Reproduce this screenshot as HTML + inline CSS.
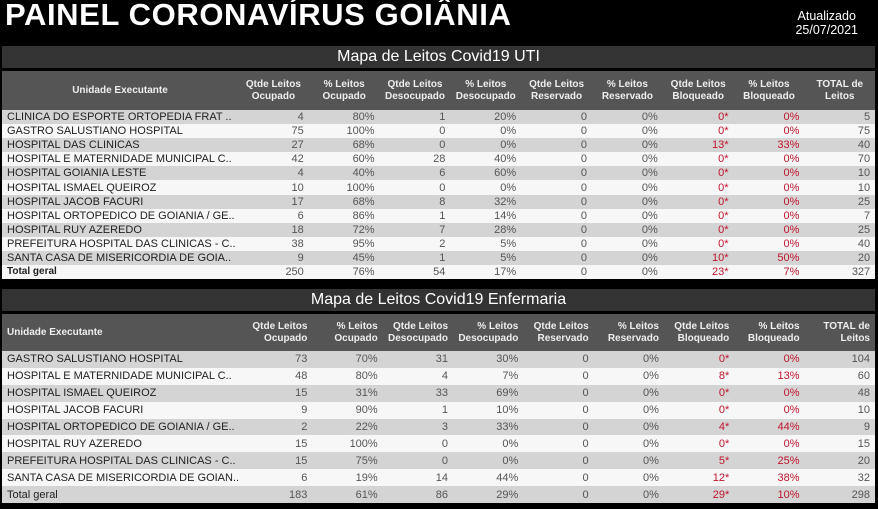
<!DOCTYPE html><html><head><meta charset="utf-8"><style>
body{margin:0;width:878px;height:509px;background:#000;overflow:hidden;font-family:"Liberation Sans",Arial,sans-serif;position:relative}
.t{position:absolute;left:5px;top:-3px;color:#fff;font-weight:bold;font-size:31px;letter-spacing:0.6px}
.up{position:absolute;right:20px;top:9px;color:#fff;font-size:12.5px;text-align:center;line-height:14px}
.bar{position:absolute;left:2px;width:873px;height:22px;background:#333;color:#fff;font-size:16px;text-align:center;line-height:22px}
table{position:absolute;left:2px;width:873px;border-collapse:collapse;table-layout:fixed}
td,th{padding:0 5px;white-space:nowrap;overflow:hidden}
th{background:#555;color:#eee;font-size:10px;font-weight:bold;line-height:12px}
td{font-size:11px;color:#555;text-align:right}
td:first-child{text-align:left;color:#222}
tr:nth-child(odd) td{background:#d4d4d4}
tr:nth-child(even) td{background:#f7f7f7}
.r{color:#c0142c}
#u th{text-align:center;height:39px}
#u td{height:14.1px;line-height:14px}
#e th{text-align:right;height:37px}
#e th:first-child{text-align:left}
#e td{height:16.9px;line-height:16px}
</style></head><body>
<div class="t">PAINEL CORONAVÍRUS GOIÂNIA</div>
<div class="up">Atualizado<br>25/07/2021</div>
<div class="bar" style="top:46px">Mapa de Leitos Covid19 UTI</div>
<table id="u" style="top:71px"><colgroup><col style="width:236px"><col span="9" style="width:70.8px"></colgroup>
<thead><tr><th>Unidade Executante</th><th>Qtde Leitos<br>Ocupado</th><th>% Leitos<br>Ocupado</th><th>Qtde Leitos<br>Desocupado</th><th>% Leitos<br>Desocupado</th><th>Qtde Leitos<br>Reservado</th><th>% Leitos<br>Reservado</th><th>Qtde Leitos<br>Bloqueado</th><th>% Leitos<br>Bloqueado</th><th>TOTAL de<br>Leitos</th></tr></thead>
<tbody>
<tr><td>CLINICA DO ESPORTE ORTOPEDIA FRAT ..</td><td>4</td><td>80%</td><td>1</td><td>20%</td><td>0</td><td>0%</td><td class="r">0*</td><td class="r">0%</td><td>5</td></tr>
<tr><td>GASTRO SALUSTIANO HOSPITAL</td><td>75</td><td>100%</td><td>0</td><td>0%</td><td>0</td><td>0%</td><td class="r">0*</td><td class="r">0%</td><td>75</td></tr>
<tr><td>HOSPITAL DAS CLINICAS</td><td>27</td><td>68%</td><td>0</td><td>0%</td><td>0</td><td>0%</td><td class="r">13*</td><td class="r">33%</td><td>40</td></tr>
<tr><td>HOSPITAL E MATERNIDADE MUNICIPAL C..</td><td>42</td><td>60%</td><td>28</td><td>40%</td><td>0</td><td>0%</td><td class="r">0*</td><td class="r">0%</td><td>70</td></tr>
<tr><td>HOSPITAL GOIANIA LESTE</td><td>4</td><td>40%</td><td>6</td><td>60%</td><td>0</td><td>0%</td><td class="r">0*</td><td class="r">0%</td><td>10</td></tr>
<tr><td>HOSPITAL ISMAEL QUEIROZ</td><td>10</td><td>100%</td><td>0</td><td>0%</td><td>0</td><td>0%</td><td class="r">0*</td><td class="r">0%</td><td>10</td></tr>
<tr><td>HOSPITAL JACOB FACURI</td><td>17</td><td>68%</td><td>8</td><td>32%</td><td>0</td><td>0%</td><td class="r">0*</td><td class="r">0%</td><td>25</td></tr>
<tr><td>HOSPITAL ORTOPEDICO DE GOIANIA / GE..</td><td>6</td><td>86%</td><td>1</td><td>14%</td><td>0</td><td>0%</td><td class="r">0*</td><td class="r">0%</td><td>7</td></tr>
<tr><td>HOSPITAL RUY AZEREDO</td><td>18</td><td>72%</td><td>7</td><td>28%</td><td>0</td><td>0%</td><td class="r">0*</td><td class="r">0%</td><td>25</td></tr>
<tr><td>PREFEITURA HOSPITAL DAS CLINICAS - C..</td><td>38</td><td>95%</td><td>2</td><td>5%</td><td>0</td><td>0%</td><td class="r">0*</td><td class="r">0%</td><td>40</td></tr>
<tr><td>SANTA CASA DE MISERICORDIA DE GOIA..</td><td>9</td><td>45%</td><td>1</td><td>5%</td><td>0</td><td>0%</td><td class="r">10*</td><td class="r">50%</td><td>20</td></tr>
<tr><td style="font-size:10px;font-weight:bold">Total geral</td><td>250</td><td>76%</td><td>54</td><td>17%</td><td>0</td><td>0%</td><td class="r">23*</td><td class="r">7%</td><td>327</td></tr>
</tbody></table>
<div class="bar" style="top:289px">Mapa de Leitos Covid19 Enfermaria</div>
<table id="e" style="top:314px"><colgroup><col style="width:240px"><col span="9" style="width:70.3px"></colgroup>
<thead><tr><th>Unidade Executante</th><th>Qtde Leitos<br>Ocupado</th><th>% Leitos<br>Ocupado</th><th>Qtde Leitos<br>Desocupado</th><th>% Leitos<br>Desocupado</th><th>Qtde Leitos<br>Reservado</th><th>% Leitos<br>Reservado</th><th>Qtde Leitos<br>Bloqueado</th><th>% Leitos<br>Bloqueado</th><th>TOTAL de<br>Leitos</th></tr></thead>
<tbody>
<tr><td>GASTRO SALUSTIANO HOSPITAL</td><td>73</td><td>70%</td><td>31</td><td>30%</td><td>0</td><td>0%</td><td class="r">0*</td><td class="r">0%</td><td>104</td></tr>
<tr><td>HOSPITAL E MATERNIDADE MUNICIPAL C..</td><td>48</td><td>80%</td><td>4</td><td>7%</td><td>0</td><td>0%</td><td class="r">8*</td><td class="r">13%</td><td>60</td></tr>
<tr><td>HOSPITAL ISMAEL QUEIROZ</td><td>15</td><td>31%</td><td>33</td><td>69%</td><td>0</td><td>0%</td><td class="r">0*</td><td class="r">0%</td><td>48</td></tr>
<tr><td>HOSPITAL JACOB FACURI</td><td>9</td><td>90%</td><td>1</td><td>10%</td><td>0</td><td>0%</td><td class="r">0*</td><td class="r">0%</td><td>10</td></tr>
<tr><td>HOSPITAL ORTOPEDICO DE GOIANIA / GE..</td><td>2</td><td>22%</td><td>3</td><td>33%</td><td>0</td><td>0%</td><td class="r">4*</td><td class="r">44%</td><td>9</td></tr>
<tr><td>HOSPITAL RUY AZEREDO</td><td>15</td><td>100%</td><td>0</td><td>0%</td><td>0</td><td>0%</td><td class="r">0*</td><td class="r">0%</td><td>15</td></tr>
<tr><td>PREFEITURA HOSPITAL DAS CLINICAS - C..</td><td>15</td><td>75%</td><td>0</td><td>0%</td><td>0</td><td>0%</td><td class="r">5*</td><td class="r">25%</td><td>20</td></tr>
<tr><td>SANTA CASA DE MISERICORDIA DE GOIAN..</td><td>6</td><td>19%</td><td>14</td><td>44%</td><td>0</td><td>0%</td><td class="r">12*</td><td class="r">38%</td><td>32</td></tr>
<tr><td>Total geral</td><td>183</td><td>61%</td><td>86</td><td>29%</td><td>0</td><td>0%</td><td class="r">29*</td><td class="r">10%</td><td>298</td></tr>
</tbody></table>
</body></html>
